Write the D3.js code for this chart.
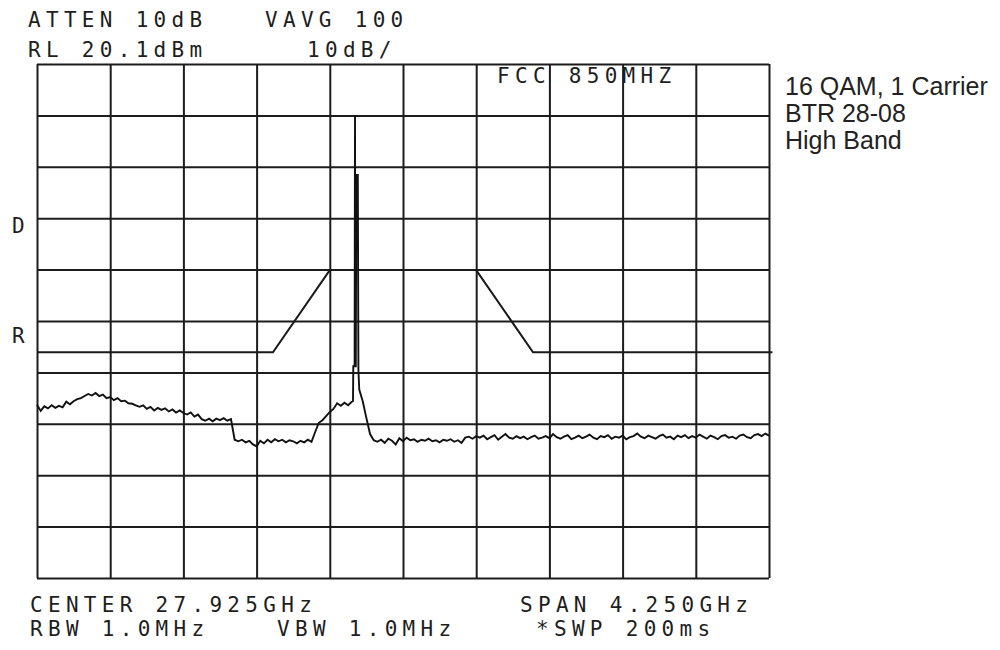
<!DOCTYPE html>
<html><head><meta charset="utf-8">
<script src="https://cdn.jsdelivr.net/npm/d3@7"></script>
<style>
html,body{margin:0;padding:0;background:#fff;}
svg{display:block;}
.hp{font-family:"DejaVu Sans Mono",monospace;font-size:21px;letter-spacing:5.3px;fill:#1e1e1e;}
.note{font-family:"Liberation Sans",Arial,sans-serif;font-size:25px;fill:#222;}
</style></head>
<body>
<svg id="c" width="1000" height="650"></svg>
<script>
// ---- instrument settings ----
const startGHz = 25.8, stopGHz = 30.05;          // CENTER 27.925 GHz, SPAN 4.25 GHz
const refLevel = 20.1, bottomLevel = -79.9;      // RL 20.1 dBm, 10 dB/div
const xGridGHz = [25.8,26.225,26.65,27.075,27.5,27.925,28.35,28.775,29.2,29.625,30.05];
const yGridDbm = [20.1,10.1,0.1,-9.9,-19.9,-29.9,-39.9,-49.9,-59.9,-69.9,-79.9];

// ---- sweep trace: 201 points, step = span/200 ----
const sweepStep = 0.02125;
const traceDbm = [
-46.2,-47.4,-46.5,-46.9,-46.3,-46.8,-46.4,-46.7,-45.6,-46.1,
-45.5,-45.1,-44.9,-44.5,-44.1,-44.4,-43.9,-44.5,-44.2,-44.9,
-44.7,-45.3,-44.9,-45.5,-45.4,-45.9,-46.0,-46.3,-46.6,-46.3,
-47.0,-46.6,-47.3,-46.8,-47.2,-46.9,-47.5,-47.1,-47.7,-47.3,
-47.8,-48.1,-47.7,-48.5,-48.1,-49.0,-49.3,-48.9,-49.4,-48.9,
-49.2,-48.8,-49.3,-49.0,-53.0,-53.3,-53.0,-53.5,-53.2,-53.9,
-54.3,-53.2,-53.7,-53.0,-53.5,-52.9,-53.3,-53.0,-53.5,-53.1,
-53.3,-53.7,-53.2,-53.5,-53.0,-53.4,-51.5,-49.7,-49.2,-48.4,
-47.6,-47.0,-45.9,-46.4,-45.8,-46.3,-45.6,-38.7,-42.5,-45.5,
-48.8,-51.9,-53.1,-53.4,-53.0,-53.6,-52.8,-53.2,-53.9,-52.7,
-53.3,-52.6,-53.1,-52.9,-53.4,-53.0,-53.2,-52.8,-53.3,-53.1,
-53.5,-53.0,-53.2,-52.9,-53.4,-53.1,-53.6,-52.6,-52.4,-52.8,
-52.3,-52.6,-52.2,-52.9,-52.5,-52.1,-53.0,-52.4,-51.9,-52.6,
-52.8,-52.3,-52.7,-52.4,-52.9,-52.5,-52.2,-52.8,-52.6,-52.3,
-52.7,-51.9,-52.5,-52.8,-52.4,-52.1,-52.9,-52.6,-52.2,-52.7,
-52.4,-52.0,-52.6,-52.9,-52.3,-52.5,-52.1,-52.8,-52.4,-52.6,
-52.2,-52.9,-52.5,-52.3,-51.8,-52.4,-52.7,-52.2,-52.5,-52.8,
-52.3,-52.0,-52.6,-52.4,-52.9,-52.2,-52.5,-52.1,-52.7,-52.3,
-52.6,-52.0,-52.4,-52.8,-52.2,-52.5,-52.9,-52.3,-52.1,-52.6,
-52.4,-52.8,-52.2,-52.0,-52.5,-52.7,-52.1,-51.9,-52.3,-51.8,-52.2
];
// carrier detail [GHz, dBm]
const carrierPts = [
[27.6347,-45.5],[27.6364,-38.7],[27.6440,-38.7],[27.6463,10.2],[27.6510,-38.7],
[27.6539,-1.5],[27.6626,-1.5],[27.6661,-39.5],[27.6713,-43.3]
];
// FCC 850 MHz emission mask [GHz, dBm]
const maskLow  = [[25.8,-36],[27.17,-36],[27.5,-20]];
const maskHigh = [[28.35,-20],[28.68,-36],[30.07,-36]];

// ---- labels ----
const headerTop = ["ATTEN 10dB","VAVG 100"];
const headerBot = ["RL 20.1dBm","10dB/"];
const fccLabel = "FCC 850MHZ";
const sideLabels = ["D","R"];
const footerTop = ["CENTER 27.925GHz","SPAN 4.250GHz"];
const footerBot = ["RBW 1.0MHz","VBW 1.0MHz","*SWP 200ms"];
const notes = ["16 QAM, 1 Carrier","BTR 28-08","High Band"];

const svg = d3.select("#c");
const x = d3.scaleLinear().domain([startGHz, stopGHz]).range([37, 769]);
const y = d3.scaleLinear().domain([bottomLevel, refLevel]).range([578, 64]);

// grid via axes
const gridCol = "#1c1c1c";
const gx = svg.append("g").attr("transform","translate(0,578)")
  .call(d3.axisBottom(x).tickValues(xGridGHz).tickSize(-(578-64)).tickFormat(""));
const gy = svg.append("g").attr("transform","translate(37,0)")
  .call(d3.axisLeft(y).tickValues(yGridDbm).tickSize(-(769-37)).tickFormat(""));
[gx,gy].forEach(g=>{
  g.select(".domain").remove();
  g.selectAll(".tick line").attr("stroke",gridCol).attr("stroke-width",2);
});

// mask
const ln = d3.line().x(d=>x(d[0])).y(d=>y(d[1]));
[maskLow, maskHigh].forEach(m=>{
  svg.append("path").attr("d", ln(m)).attr("fill","none")
    .attr("stroke","#1a1a1a").attr("stroke-width",2);
});

// trace
const pts = traceDbm.map((v,i)=>[startGHz + i*sweepStep, v]).concat(carrierPts)
  .sort((a,b)=>a[0]-b[0]);
svg.append("path").attr("d", ln(pts)).attr("fill","none")
  .attr("stroke","#111").attr("stroke-width",1.9).attr("stroke-linejoin","miter");

// texts
function hp(t,xp,yp){ svg.append("text").attr("class","hp").attr("x",xp).attr("y",yp).text(t); }
hp(headerTop[0],28,27); hp(headerTop[1],265,27);
hp(headerBot[0],28,57); hp(headerBot[1],307,57);
hp(fccLabel,497,83);
hp(sideLabels[0],12,233); hp(sideLabels[1],12,343);
hp(footerTop[0],30,612); hp(footerTop[1],520,612);
hp(footerBot[0],30,636); hp(footerBot[1],277,636); hp(footerBot[2],536,636);
notes.forEach((t,i)=>svg.append("text").attr("class","note").attr("x",785).attr("y",95+i*27).text(t));
</script>
</body></html>
